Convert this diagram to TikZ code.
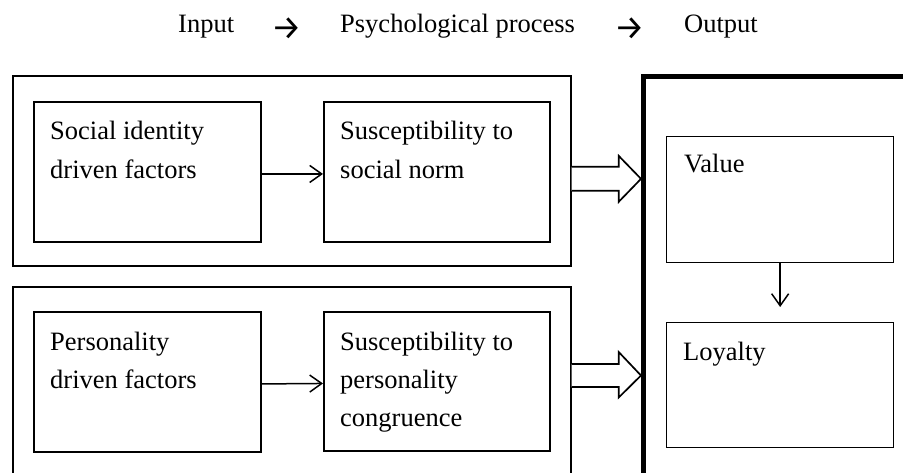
\documentclass[tikz,border=0pt]{standalone}
\usepackage{fontspec}
\setmainfont{Liberation Serif}
\newfontfamily\arrowfont{Fira Sans}
\usetikzlibrary{arrows.meta,calc}
\tikzset{
  txt/.style={inner sep=0pt, anchor=base west, font=\fontsize{26.5}{38.5}\selectfont},
  box/.style={draw, line width=1.9pt, anchor=north west, inner sep=0pt},
  outerbox/.style={draw, line width=1.7pt, anchor=north west, inner sep=0pt},
  thinbox/.style={draw, line width=1.3pt, anchor=north west, inner sep=0pt},
  thickbox/.style={draw, line width=4.8pt, anchor=north west, inner sep=0pt},
  arr/.style={line width=1.5pt, -{Straight Barb[length=12pt,width=17pt,line width=1.5pt]}},
  blockarrow/.style={draw, line width=1.7pt, fill=white, line join=miter},
  harrow/.style={inner sep=0pt, anchor=base, font=\arrowfont\fontsize{34}{38}\selectfont}
}
\newcommand{\lns}[1]{\parbox[t]{10cm}{\raggedright #1}}
\begin{document}
\begin{tikzpicture}[x=1pt,y=-1pt]
\useasboundingbox (0,0) rectangle (903,473);
\clip (0,0) rectangle (903,473);
\fill[white] (0,0) rectangle (903,473);
% header
\node[txt] (hin) at (178,33) {Input};
\node[harrow] (har1) at (287,40) {→};
\node[txt] (hpp) at (340,33) {Psychological process};
\node[harrow] (har2) at (630,40) {→};
\node[txt] (hout) at (684,33) {Output};
% outer boxes
\node[outerbox, minimum width=558pt, minimum height=190pt] (outerTop) at (12,75) {};
\node[outerbox, minimum width=558pt, minimum height=230pt] (outerBot) at (12,286) {};
\node[thickbox, minimum width=330pt, minimum height=460pt] (right) at (641,74) {};
% inner boxes
\node[box, minimum width=227pt, minimum height=140pt] (sif) at (33,101) {};
\node[box, minimum width=226pt, minimum height=140pt] (ssn) at (323,101) {};
\node[box, minimum width=227pt, minimum height=140pt] (pdf) at (33,311) {};
\node[box, minimum width=226pt, minimum height=139pt] (spc) at (323,311) {};
\node[thinbox, minimum width=227pt, minimum height=126pt] (value) at (666,136) {};
\node[thinbox, minimum width=227pt, minimum height=125pt] (loyalty) at (666,322) {};
% texts
\node[txt] (tsif) at (50,140) {\lns{Social identity\\driven factors}};
\node[txt] (tssn) at (340,140) {\lns{Susceptibility to\\social norm}};
\node[txt] (tpdf) at (50,350) {\lns{Personality\\driven factors}};
\node[txt] (tspc) at (340,350) {\lns{Susceptibility to\\personality\\congruence}};
\node[txt] (tval) at (684,173) {Value};
\node[txt] (tloy) at (683,360) {Loyalty};
% arrows
\draw[arr] ($(sif.east)+(0,2)$) -- ($(ssn.west)+(0,2)$);
\draw[arr] ($(pdf.east)+(0,2)$) -- ($(spc.west)+(0,2)$);
\draw[arr] (value.south) -- ($(loyalty.north)+(0,-15)$);
% block arrows
\coordinate (b1) at ($(outerTop.east)+(0,8)$);
\draw[blockarrow] ($(b1)+(0,-12)$) -- ++(47,0) -- ++(0,-11) -- (right.west |- b1) -- ($(b1)+(47,23)$) -- ++(0,-11) -- ($(b1)+(0,12)$);
\coordinate (b2) at (outerBot.east |- 0,375.5);
\draw[blockarrow] ($(b2)+(0,-11.5)$) -- ++(47,0) -- ++(0,-12) -- (right.west |- b2) -- ($(b2)+(47,22)$) -- ++(0,-10.5) -- ($(b2)+(0,11.5)$);
\end{tikzpicture}
\end{document}
